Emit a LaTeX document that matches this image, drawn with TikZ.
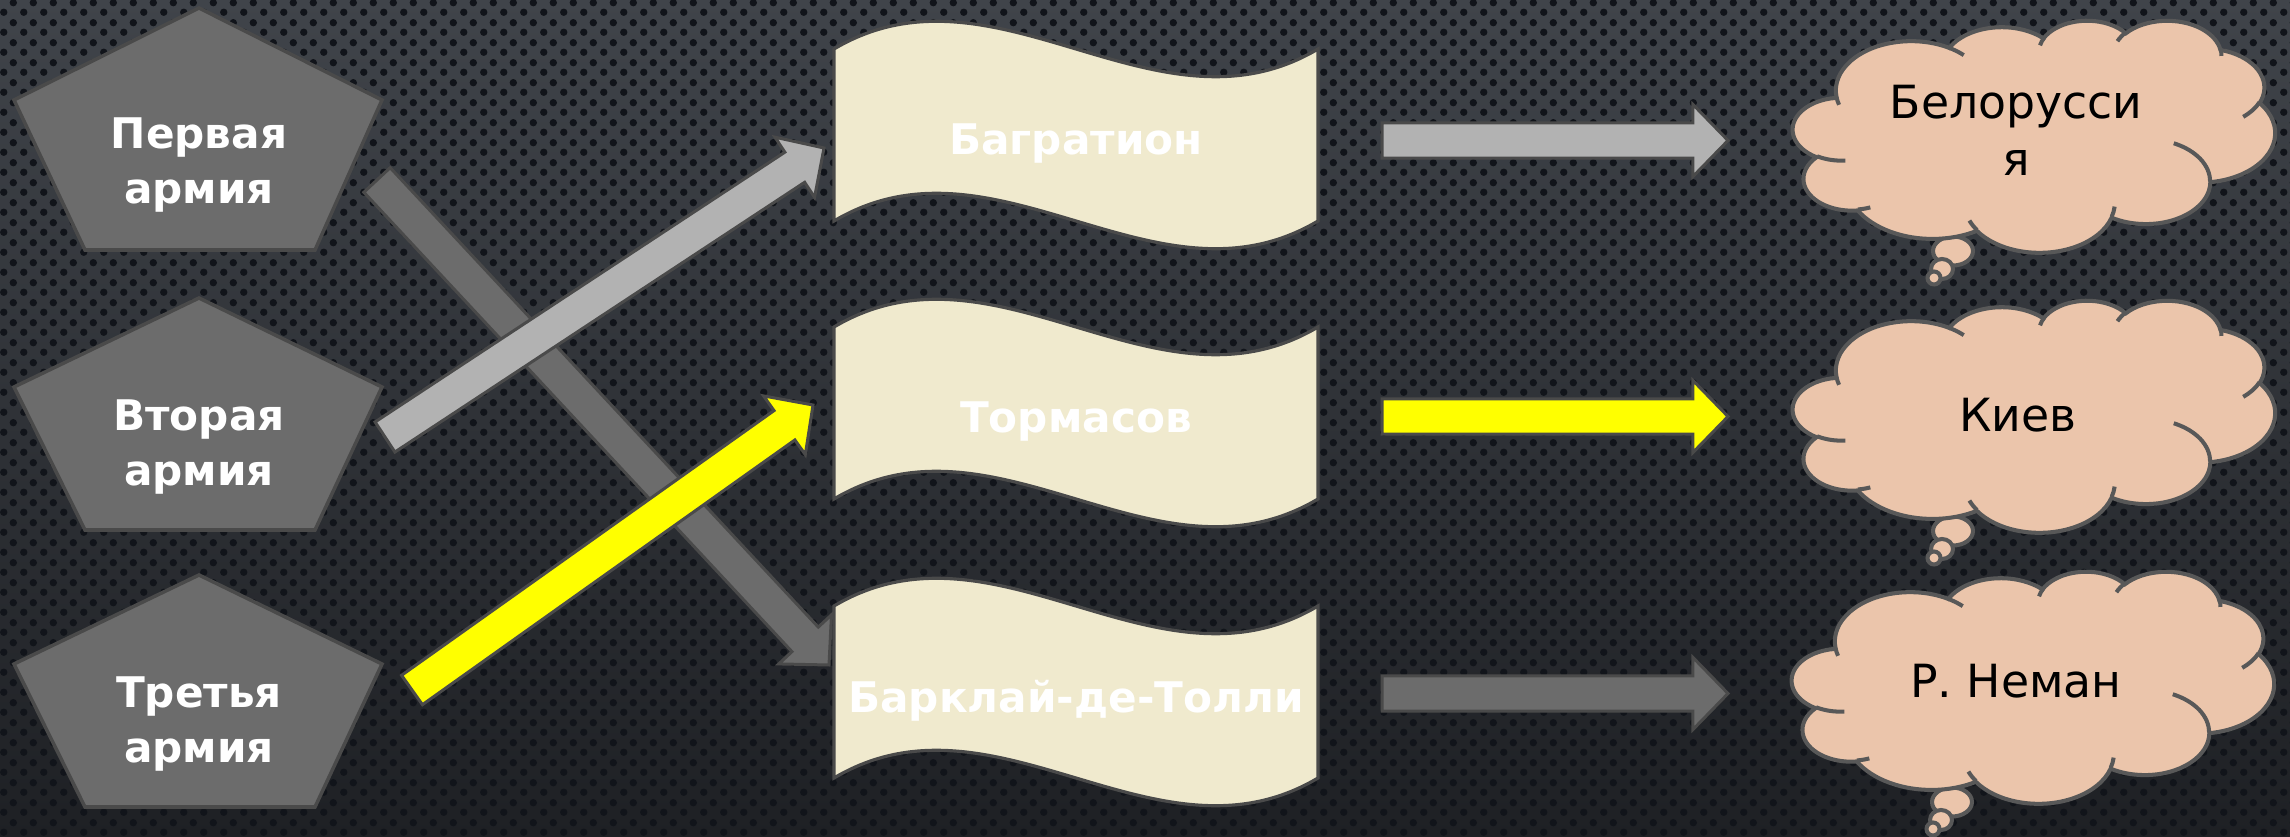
\documentclass[tikz,border=0pt]{standalone}
\usepackage{fontspec}
\setmainfont{DejaVu Sans}
\usetikzlibrary{calc,patterns}

\definecolor{bgtop}{RGB}{64,68,74}
\definecolor{bgbot}{RGB}{30,32,36}
\definecolor{holes}{RGB}{17,20,26}
\definecolor{edge}{RGB}{74,74,74}
\definecolor{armyfill}{RGB}{108,108,108}
\definecolor{banner}{RGB}{240,234,206}
\definecolor{puff}{RGB}{235,197,171}
\definecolor{puffedge}{RGB}{88,88,88}
\definecolor{lightarrow}{RGB}{178,178,178}
\definecolor{darkarrow}{RGB}{108,108,108}
\definecolor{brightarrow}{RGB}{255,255,0}

\pgfdeclarepatternformonly{perforated}{\pgfpointorigin}{\pgfqpoint{5.69pt}{5.69pt}}%
  {\pgfqpoint{5.69pt}{5.69pt}}{%
    \pgfpathcircle{\pgfqpoint{1.42pt}{1.42pt}}{1.1pt}%
    \pgfpathcircle{\pgfqpoint{4.27pt}{4.27pt}}{1.1pt}%
    \pgfusepath{fill}}

\newcommand\blockarrow[4][4.98pt]{%
  \coordinate (head) at ($(#4)!9.96pt!(#3)$);
  \draw[#2] ($(#3)!#1!90:(#4)$) -- ($(head)!#1!90:(#4)$) -- ($(head)!10.24pt!90:(#4)$)
    -- (#4) -- ($(head)!10.24pt!-90:(#4)$) -- ($(head)!#1!-90:(#4)$)
    -- ($(#3)!#1!-90:(#4)$) -- cycle;}

\newcommand\thoughtcloud[2]{%
  \begin{scope}[shift={(#1,#2)}]
    \draw[puffline] (160,231) ellipse[x radius=20,y radius=14.5];
    \draw[puffline] (149,249) ellipse[x radius=11,y radius=10];
    \draw[puffline] (141,258) ellipse[x radius=6.5,y radius=6.5];
    \begin{scope}[xscale=1.1157,yscale=0.537]
      \draw[puffline] (39,143.7)
        arc[start angle=172.25,delta angle=128.11,x radius=67.53,y radius=91.9]
        arc[start angle=-152.02,delta angle=106.57,x radius=53.33,y radius=72.67]
        arc[start angle=-153.49,delta angle=116.17,x radius=43.65,y radius=59.45]
        arc[start angle=-139.72,delta angle=129.51,x radius=48.57,y radius=65.95]
        arc[start angle=-74.77,delta angle=97.98,x radius=53.33,y radius=72.73]
        arc[start angle=-37.52,delta angle=119.38,x radius=67.75,y radius=92.2]
        arc[start angle=0.46,delta angle=121.52,x radius=57.85,y radius=78.67]
        arc[start angle=16.84,delta angle=129.39,x radius=67.52,y radius=92.15]
        arc[start angle=58.98,delta angle=91.22,x radius=77.2,y radius=105.43]
        arc[start angle=83.31,delta angle=139.78,x radius=43.6,y radius=59.18]
        arc[start angle=120.35,delta angle=143.76,x radius=43.45,y radius=59.45]
        -- cycle;
      \draw[puffline,fill=none]
        (46.93,261.77) arc[start angle=85.55,delta angle=34.8,x radius=43.45,y radius=59.45]
        (69.28,348.99) arc[start angle=68.23,delta angle=15.08,x radius=43.6,y radius=59.18]
        (164.78,390.9) arc[start angle=146.23,delta angle=12.24,x radius=67.52,y radius=92.15]
        (288.27,347.51) arc[start angle=4.74,delta angle=12.1,x radius=67.52,y radius=92.15]
        (341.29,229.54) arc[start angle=-64.03,delta angle=64.49,x radius=57.85,y radius=78.67]
        (417.98,153.54) arc[start angle=23.21,delta angle=26.43,x radius=53.33,y radius=72.73]
        (383.24,54.26) arc[start angle=-10.21,delta angle=11.03,x radius=48.57,y radius=65.95]
        (290.78,39.52) arc[start angle=-156.29,delta angle=16.58,x radius=48.57,y radius=65.95]
        (221.41,47.2) arc[start angle=-167.73,delta angle=14.24,x radius=43.65,y radius=59.45]
        (140,51.92) arc[start angle=-59.64,delta angle=13.91,x radius=67.53,y radius=91.9]
        (41.27,157.89) arc[start angle=163.19,delta angle=9.06,x radius=67.53,y radius=91.9];
    \end{scope}
  \end{scope}}

\begin{document}
\begin{tikzpicture}[x=0.01cm,y=-0.01cm,
    army/.style={draw=edge,fill=armyfill,line width=1pt},
    armytext/.style={text=white,font=\bfseries\fontsize{12}{15.6}\selectfont,
      align=center,inner sep=0pt},
    wave/.style={draw=edge,fill=banner,line width=0.9pt},
    wavetext/.style={text=white,font=\bfseries\fontsize{12}{14}\selectfont,
      anchor=base,inner sep=0pt},
    puffline/.style={draw=puffedge,fill=puff,line width=1.15pt},
    cloudtext/.style={font=\fontsize{13}{16.2}\selectfont,align=center,inner sep=0pt},
    arr/.style={draw=edge,line width=0.85pt}
  ]
    \useasboundingbox (0,0) rectangle (2290,837);
    \fill[top color=bgtop,bottom color=bgbot] (0,0) rectangle (2290,837);
    \fill[pattern=perforated,pattern color=holes] (0,0) rectangle (2290,837);

    \coordinate (first-out) at (377,180);
    \coordinate (barclay-in) at (829,665);
    \coordinate (second-out) at (385,437);
    \coordinate (bagration-in) at (824,148);
    \coordinate (third-out) at (412,690);
    \coordinate (tormasov-in) at (813,405);
    \coordinate (bagration-out) at (1382,140.5);
    \coordinate (belarus-in) at (1728,140.5);
    \coordinate (tormasov-out) at (1382,416.5);
    \coordinate (kiev-in) at (1728,416.5);
    \coordinate (barclay-out) at (1382,693.5);
    \coordinate (neman-in) at (1728,693.5);

    \blockarrow[5.12pt]{arr,fill=darkarrow}{first-out}{barclay-in}
    \blockarrow[5.12pt]{arr,fill=lightarrow}{second-out}{bagration-in}
    \blockarrow[5.12pt]{arr,fill=brightarrow}{third-out}{tormasov-in}

    \foreach \nm/\yt/\lbl in {bagration/20/Багратион, tormasov/298/Тормасов,
        barclay/577/Барклай-де-Толли}{
      \draw[wave] (834,\yt+29) .. controls (995.7,\yt-67) and (1156.3,\yt+125) .. (1318,\yt+29)
        -- (1318,\yt+201) .. controls (1156.3,\yt+297) and (995.7,\yt+105) .. (834,\yt+201)
        -- cycle;
      \node[wavetext] (\nm) at (1076,\yt+135) {\lbl};
    }

    \foreach \nm/\ya/\yb/\yc/\yt/\lbl in {first/8/100/250/165/Первая,
        second/298/387/530/447/Вторая, third/575/664/807/724/Третья}{
      \draw[army] (199,\ya) -- (382,\yb) -- (315,\yc) -- (85,\yc) -- (14,\yb) -- cycle;
      \node[armytext] (\nm) at (199,\yt) {\lbl\\армия};
    }

    \foreach \a/\b/\c in {bagration-out/belarus-in/lightarrow,
        tormasov-out/kiev-in/brightarrow, barclay-out/neman-in/darkarrow}{
      \blockarrow{arr,fill=\c}{\a}{\b}
    }

    \thoughtcloud{1793}{20}
    \thoughtcloud{1793}{300}
    \thoughtcloud{1792}{571}
    \node[cloudtext] (belarus) at (2016,130) {Белорусси\\я};
    \node[cloudtext,anchor=base] (kiev) at (2018,432) {Киев};
    \node[cloudtext,anchor=base] (neman) at (2016,698) {Р. Неман};
\end{tikzpicture}
\end{document}
